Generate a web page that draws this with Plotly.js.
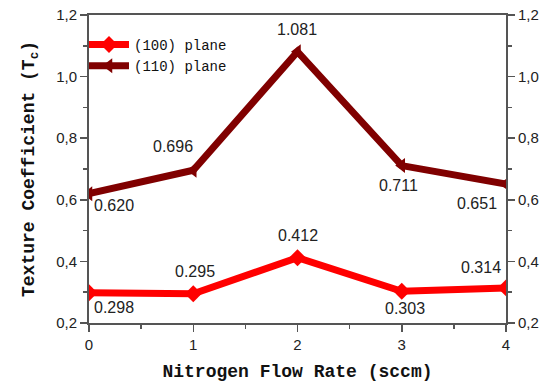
<!DOCTYPE html>
<html><head><meta charset="utf-8">
<script src="https://cdn.plot.ly/plotly-3.0.1.min.js"></script>
<style>html,body{margin:0;padding:0;background:#fff}#chart{width:540px;height:390px}</style>
</head><body><div id="chart"></div>
<script>
const flowRates = [0, 1, 2, 3, 4];
const plane100 = [0.298, 0.295, 0.412, 0.303, 0.314];
const plane110 = [0.620, 0.696, 1.081, 0.711, 0.651];
const labels100 = ['0.298', '0.295', '0.412', '0.303', '0.314'];
const labels110 = ['0.620', '0.696', '1.081', '0.711', '0.651'];
const yTicks = [0.2, 0.4, 0.6, 0.8, 1.0, 1.2];
const yTickText = ['0,2', '0,4', '0,6', '0,8', '1,0', '1,2'];

// label placement (pixel offsets from each point)
const place100 = [[25, 15, 'center'], [2, -22, 'center'], [0, -22, 'center'], [3, 17, 'center'], [-3, -20, 'right']];
const place110 = [[25, 12, 'center'], [-20, -24, 'center'], [-1, -22, 'center'], [-3, 20, 'center'], [-7, 19, 'right']];

const traces = [
  {x: flowRates, y: plane100, name: '(100) plane', mode: 'lines+markers',
   line: {color: '#ff0000', width: 7}, marker: {symbol: 'diamond', size: 13, color: '#ff0000'}},
  {x: flowRates, y: plane110, name: '(110) plane', mode: 'lines+markers',
   line: {color: '#800000', width: 7}, marker: {symbol: 'triangle-left', size: 13, color: '#800000'}}
];

const labelFont = {family: 'Liberation Sans, Arial, sans-serif', size: 16, color: '#222'};
function makeLabels(xs, ys, texts, place) {
  return xs.map((x, i) => ({
    x: x, y: ys[i], text: texts[i], showarrow: false, font: labelFont,
    xanchor: place[i][2], yanchor: 'middle', xshift: place[i][0], yshift: -place[i][1]
  }));
}
const annotations = makeLabels(flowRates, plane100, labels100, place100)
  .concat(makeLabels(flowRates, plane110, labels110, place110));

const axisFont = {family: 'Liberation Sans, Arial, sans-serif', size: 15, color: '#222'};
const titleFont = {family: 'Liberation Mono, DejaVu Sans Mono, monospace', size: 18, color: '#111', weight: 'bold'};
const layout = {
  width: 540, height: 390,
  margin: {l: 89, r: 34, t: 15, b: 67},
  paper_bgcolor: '#fff', plot_bgcolor: '#fff',
  showlegend: true,
  annotations: annotations,
  legend: {x: -0.012, y: 0.955, xanchor: 'left', yanchor: 'top', bgcolor: 'rgba(0,0,0,0)',
           font: {family: 'Liberation Mono, DejaVu Sans Mono, monospace', size: 14, color: '#111'},
           tracegroupgap: 0, itemwidth: 40},
  xaxis: {range: [0, 4], tickvals: flowRates, ticktext: flowRates.map(String), showgrid: false, zeroline: false,
          showline: true, linecolor: '#555', linewidth: 2, mirror: true,
          ticks: 'outside', ticklen: 7, tickwidth: 1.5, tickcolor: '#555',
          minor: {ticks: 'outside', dtick: 0.5, ticklen: 4, tickcolor: '#555', showgrid: false},
          tickfont: axisFont,
          title: {text: 'Nitrogen Flow Rate (sccm)', standoff: 12, font: titleFont}},
  yaxis: {range: [0.2, 1.2], tickvals: yTicks, ticktext: yTickText, showgrid: false, zeroline: false,
          showline: true, linecolor: '#555', linewidth: 2,
          ticks: 'outside', ticklen: 7, tickwidth: 1.5, tickcolor: '#555',
          minor: {ticks: 'outside', dtick: 0.1, ticklen: 4, tickcolor: '#555', showgrid: false},
          tickfont: axisFont,
          title: {text: 'Texture Coefficient (T<sub>c</sub>)', standoff: 17, font: titleFont}},
  yaxis2: {range: [0.2, 1.2], overlaying: 'y', side: 'right', tickvals: yTicks, ticktext: yTickText,
           showgrid: false, zeroline: false, showline: true, linecolor: '#555', linewidth: 2,
           ticks: 'outside', ticklen: 7, tickwidth: 1.5, tickcolor: '#555',
           minor: {ticks: 'outside', dtick: 0.1, ticklen: 4, tickcolor: '#555', showgrid: false},
           tickfont: axisFont}
};
traces.push({x: [flowRates[0]], y: [yTicks[0]], yaxis: 'y2', mode: 'markers', marker: {opacity: 0}, showlegend: false, hoverinfo: 'skip'});
Plotly.newPlot('chart', traces, layout, {displayModeBar: false, staticPlot: true});
</script></body></html>
